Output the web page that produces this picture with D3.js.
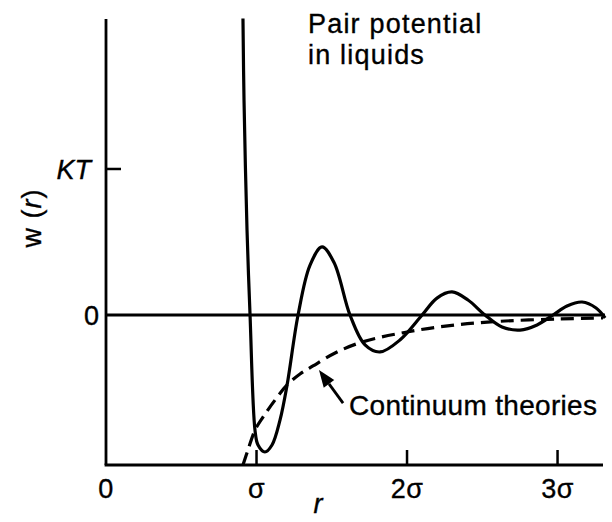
<!DOCTYPE html>
<html>
<head>
<meta charset="utf-8">
<script src="https://cdn.jsdelivr.net/npm/d3@7"></script>
<style>
html,body{margin:0;padding:0;background:#fff;}
svg{display:block;}
text{font-family:"Liberation Sans",Arial,Helvetica,sans-serif;fill:#000;stroke:#000;stroke-width:0.35;}
</style>
</head>
<body>
<svg id="chart" width="612" height="522"></svg>
<script>
// ---- data (r in units of sigma, w in units of kT) ----
const pairR = [0.910,0.917,0.937,0.957,0.990,1.010,1.056,1.103,1.156,1.203,1.276,1.355,1.435,1.515,1.621,1.721,1.821,1.953,2.100,2.199,2.299,2.405,2.518,2.631,2.751,2.864,2.970,3.063,3.163,3.256,3.316];
const pairW = [2.03,1.47,0.58,0.00,-0.79,-0.89,-0.938,-0.89,-0.72,-0.48,0.00,0.34,0.466,0.36,0.00,-0.205,-0.253,-0.171,0.00,0.116,0.158,0.103,0.00,-0.082,-0.103,-0.068,0.00,0.062,0.089,0.048,-0.02];
const contR = [0.910,0.943,0.990,1.043,1.123,1.203,1.289,1.375,1.522,1.701,2.000,2.319,2.651,3.017,3.302];
const contW = [-1.027,-0.925,-0.788,-0.699,-0.582,-0.479,-0.404,-0.349,-0.260,-0.185,-0.116,-0.068,-0.041,-0.027,-0.020];
const xTickValues = [0,1,2,3];
const xTickLabels = ["0","σ","2σ","3σ"];
const yTickValues = [0,1];
const yTickLabels = ["0","KT"];
const arrowFrom = [1.575,-0.603];
const arrowTo = [1.415,-0.377];

const svg = d3.select("#chart");
const x = d3.scaleLinear().domain([0,3.302]).range([106,603]);
const y = d3.scaleLinear().domain([-1.027,2.027]).range([465,19]);

const ink = "#000";

// zero line
svg.append("line").attr("x1",x(0)).attr("x2",x(3.315)).attr("y1",y(0)).attr("y2",y(0))
  .attr("stroke",ink).attr("stroke-width",2.8);

// axes
svg.append("line").attr("x1",x(0)).attr("x2",x(0)).attr("y1",y(2.027)).attr("y2",y(-1.027))
  .attr("stroke",ink).attr("stroke-width",2.8);
svg.append("line").attr("x1",x(0)-1.4).attr("x2",x(3.302)).attr("y1",y(-1.027)).attr("y2",y(-1.027))
  .attr("stroke",ink).attr("stroke-width",3);

// x ticks
xTickValues.forEach((v,i)=>{
  if(v>0){
    svg.append("line").attr("x1",x(v)).attr("x2",x(v)).attr("y1",y(-1.027)).attr("y2",y(-1.027)-15)
      .attr("stroke",ink).attr("stroke-width",2.5);
  }
  svg.append("text").attr("x",x(v)).attr("y",498).attr("text-anchor","middle")
    .attr("font-size",27).attr("letter-spacing",0.5).text(xTickLabels[i]);
});

// y ticks
yTickValues.forEach((v,i)=>{
  if(v>0){
    svg.append("line").attr("x1",x(0)).attr("x2",x(0)+15).attr("y1",y(v)).attr("y2",y(v))
      .attr("stroke",ink).attr("stroke-width",2.5);
  }
  svg.append("text").attr("x",x(0)-(v>0?15:7)).attr("y",y(v)+10).attr("text-anchor","end")
    .attr("font-size",27).attr("font-style",v>0?"italic":"normal").text(yTickLabels[i]);
});

// axis titles
svg.append("text").attr("x",318).attr("y",513).attr("text-anchor","middle")
  .attr("font-size",27).attr("font-style","italic").text("r");
const yt = svg.append("text").attr("transform","translate(41,218) rotate(-90)")
  .attr("text-anchor","middle").attr("font-size",27).attr("letter-spacing",1);
yt.append("tspan").text("w (");
yt.append("tspan").attr("font-style","italic").text("r");
yt.append("tspan").text(")");

// curves
const lineN = d3.line().x(d=>x(d[0])).y(d=>y(d[1])).curve(d3.curveCatmullRom.alpha(0.5));
svg.append("path").datum(contR.map((r,i)=>[r,contW[i]])).attr("d",lineN)
  .attr("fill","none").attr("stroke",ink).attr("stroke-width",3.2).attr("stroke-dasharray","13,7");
svg.append("path").datum(pairR.map((r,i)=>[r,pairW[i]])).attr("d",lineN)
  .attr("fill","none").attr("stroke",ink).attr("stroke-width",3.2);

// arrow
const ax0=x(arrowFrom[0]), ay0=y(arrowFrom[1]), ax1=x(arrowTo[0]), ay1=y(arrowTo[1]);
const ang=Math.atan2(ay1-ay0,ax1-ax0), hl=17, hw=6.5;
const bx=ax1-hl*Math.cos(ang), by=ay1-hl*Math.sin(ang);
svg.append("line").attr("x1",ax0).attr("y1",ay0).attr("x2",bx).attr("y2",by)
  .attr("stroke",ink).attr("stroke-width",2.8);
svg.append("polygon").attr("points",[
  [ax1,ay1],
  [bx+hw*Math.sin(ang),by-hw*Math.cos(ang)],
  [bx-hw*Math.sin(ang),by+hw*Math.cos(ang)]
].map(p=>p.join(",")).join(" ")).attr("fill",ink);

// annotations
svg.append("text").attr("x",349).attr("y",415).attr("font-size",28).attr("letter-spacing",0.3).text("Continuum theories");
const t = svg.append("text").attr("font-size",27).attr("letter-spacing",1.2);
t.append("tspan").attr("x",308).attr("y",33).text("Pair potential");
t.append("tspan").attr("x",308).attr("y",64).text("in liquids");
</script>
</body>
</html>
